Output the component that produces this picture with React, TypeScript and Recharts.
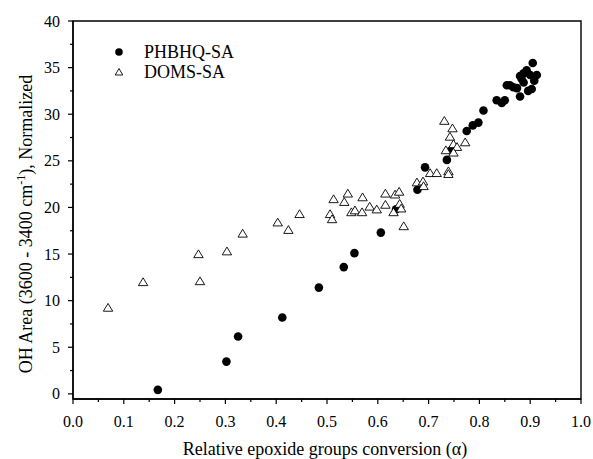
import { ScatterChart, Scatter, XAxis, YAxis, ReferenceArea } from "recharts";

const PHBHQ_ALPHA = [
  0.167, 0.302, 0.325, 0.412, 0.484, 0.533, 0.554, 0.606, 0.636, 0.678, 0.693, 0.736,
  0.744, 0.775, 0.787, 0.798, 0.808, 0.834, 0.844, 0.85, 0.854, 0.86, 0.867, 0.874,
  0.88, 0.88, 0.883, 0.887, 0.887, 0.893, 0.896, 0.9, 0.903, 0.905, 0.908, 0.913,
];
const PHBHQ_OH = [
  0.43, 3.46, 6.15, 8.2, 11.4, 13.6, 15.1, 17.3, 19.8, 21.9, 24.3, 25.1,
  26.1, 28.2, 28.8, 29.1, 30.4, 31.5, 31.2, 31.5, 33.1, 33.1, 32.9, 32.8,
  31.9, 34.1, 33.8, 34.4, 33.4, 34.7, 32.5, 34.2, 32.7, 35.5, 33.6, 34.2,
];

const DOMS_ALPHA = [
  0.069, 0.138, 0.247, 0.25, 0.303, 0.334, 0.403, 0.424, 0.446, 0.506, 0.51, 0.513,
  0.534, 0.541, 0.548, 0.555, 0.569, 0.57, 0.584, 0.598, 0.615, 0.615, 0.631, 0.634,
  0.642, 0.643, 0.646, 0.651, 0.677, 0.689, 0.69, 0.703, 0.716, 0.739, 0.739, 0.731,
  0.747, 0.742, 0.772, 0.749, 0.756, 0.734, 0.749,
];
const DOMS_OH = [
  9.25, 12.0, 15.0, 12.1, 15.3, 17.2, 18.4, 17.6, 19.3, 19.3, 18.75, 20.9,
  20.6, 21.5, 19.5, 19.7, 19.5, 21.1, 20.1, 19.8, 21.5, 20.3, 19.5, 21.4,
  21.7, 20.4, 19.9, 18.0, 22.7, 22.8, 22.3, 23.7, 23.7, 23.9, 23.6, 29.3,
  28.5, 27.6, 27.0, 26.8, 26.5, 26.15, 25.9,
];

const X_TICKS = [
  0, 0.05, 0.1, 0.15, 0.2, 0.25, 0.3, 0.35, 0.4, 0.45, 0.5,
  0.55, 0.6, 0.65, 0.7, 0.75, 0.8, 0.85, 0.9, 0.95, 1.0,
];
const Y_TICKS = [
  0, 2.5, 5, 7.5, 10, 12.5, 15, 17.5, 20, 22.5, 25, 27.5, 30, 32.5, 35, 37.5, 40,
];
const X_MIN = 0;
const X_MAX = 1;
const Y_MIN = -0.55;
const Y_MAX = 40;

const FONT = "'Liberation Serif', 'Times New Roman', serif";

const phbhqData = PHBHQ_ALPHA.map((x, i) => ({ x, y: PHBHQ_OH[i] }));
const domsData = DOMS_ALPHA.map((x, i) => ({ x, y: DOMS_OH[i] }));

function XTick({ x, y, payload }: any) {
  const v = payload.value;
  const major = Math.round(v * 100) % 10 === 0;
  return (
    <g>
      <line x1={x} y1={y} x2={x} y2={y + (major ? 5 : 3)} stroke="#000" strokeWidth={1.2} />
      {major && (
        <text x={x} y={y + 28} textAnchor="middle" fontFamily={FONT} fontSize={16} fill="#000">
          {v.toFixed(1)}
        </text>
      )}
    </g>
  );
}

function YTick({ x, y, payload }: any) {
  const v = payload.value;
  const major = v % 5 === 0;
  return (
    <g>
      <line x1={x - (major ? 5 : 3)} y1={y} x2={x} y2={y} stroke="#000" strokeWidth={1.2} />
      {major && (
        <text x={x - 13} y={y + 5.5} textAnchor="end" fontFamily={FONT} fontSize={16} fill="#000">
          {v}
        </text>
      )}
    </g>
  );
}

function Dot(props: any) {
  return <circle cx={props.cx} cy={props.cy} r={4.3} fill="#000" />;
}

function Tri(props: any) {
  const { cx, cy } = props;
  return (
    <polygon
      points={`${cx},${cy - 4.2} ${cx - 4.7},${cy + 3.6} ${cx + 4.7},${cy + 3.6}`}
      fill="#fff"
      stroke="#000"
      strokeWidth={0.9}
    />
  );
}

const frameLine = { stroke: "#000", strokeWidth: 1.4 };

export default function App() {
  return (
    <div style={{ position: "absolute", left: 0, top: 0, width: 593, height: 459, background: "#fff" }}>
      <ScatterChart
        width={593}
        height={459}
        margin={{ top: 21, right: 12, bottom: 0, left: 0 }}
      >
        <XAxis
          type="number"
          dataKey="x"
          domain={[X_MIN, X_MAX]}
          ticks={X_TICKS}
          interval={0}
          tick={<XTick />}
          tickSize={0}
          tickMargin={0}
          tickLine={false}
          axisLine={frameLine}
          height={60}
          allowDataOverflow
          label={{
            content: () => (
              <text x={325} y={455} textAnchor="middle" fontFamily={FONT} fontSize={18} fill="#000">
                Relative epoxide groups conversion (α)
              </text>
            ),
          }}
        />
        <YAxis
          type="number"
          dataKey="y"
          domain={[Y_MIN, Y_MAX]}
          ticks={Y_TICKS}
          interval={0}
          tick={<YTick />}
          tickSize={0}
          tickMargin={0}
          tickLine={false}
          axisLine={frameLine}
          width={73}
          allowDataOverflow
          label={{
            content: () => (
              <text
                x={32}
                y={224}
                transform="rotate(-90 32 224)"
                textAnchor="middle"
                fontFamily={FONT}
                fontSize={18}
                fill="#000"
              >
                OH Area (3600 - 3400 cm
                <tspan fontSize={12} dy={-7}>-1</tspan>
                <tspan dy={7}>), Normalized</tspan>
              </text>
            ),
          }}
        />
        {/* plot frame (top and right edges) */}
        <ReferenceArea
          x1={X_MIN}
          x2={X_MAX}
          y1={Y_MIN}
          y2={Y_MAX}
          fill="none"
          stroke="#000"
          strokeWidth={1.4}
          ifOverflow="visible"
        />
        <Scatter name="PHBHQ-SA" data={phbhqData} shape={<Dot />} isAnimationActive={false} />
        <Scatter name="DOMS-SA" data={domsData} shape={<Tri />} isAnimationActive={false} />
      </ScatterChart>
      <div
        style={{
          position: "absolute",
          left: 112,
          top: 42,
          fontFamily: FONT,
          fontSize: 18,
          color: "#000",
          lineHeight: "20px",
        }}
      >
        <div style={{ display: "flex", alignItems: "center", height: 20 }}>
          <svg width={14} height={14} style={{ marginRight: 18 }}>
            <circle cx={7} cy={7} r={3.8} fill="#000" />
          </svg>
          <span>PHBHQ-SA</span>
        </div>
        <div style={{ display: "flex", alignItems: "center", height: 20 }}>
          <svg width={14} height={14} style={{ marginRight: 18 }}>
            <polygon points="7,3.5 3.2,10 10.8,10" fill="#fff" stroke="#000" strokeWidth={0.9} />
          </svg>
          <span>DOMS-SA</span>
        </div>
      </div>
    </div>
  );
}
